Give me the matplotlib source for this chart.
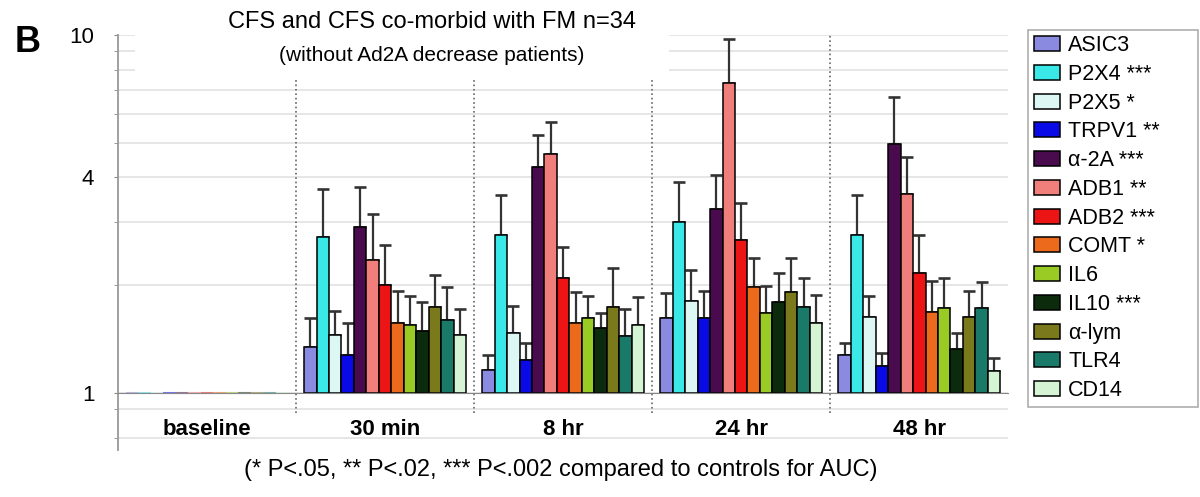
import numpy as np
import matplotlib
matplotlib.use('Agg')
import matplotlib.pyplot as plt
from matplotlib.patches import Rectangle
from matplotlib.ticker import FixedLocator, NullFormatter

plt.rcParams['font.family'] = ['Liberation Sans', 'DejaVu Sans']

groups = ['baseline', '30 min', '8 hr', '24 hr', '48 hr']
genes = ['ASIC3', 'P2X4 ***', 'P2X5 *', 'TRPV1 **', 'α-2A ***', 'ADB1 **', 'ADB2 ***',
         'COMT *', 'IL6', 'IL10 ***', 'α-lym', 'TLR4', 'CD14']
colors = ['#8a8ae0', '#3be8e8', '#dcf7f4', '#0a0ae6', '#4a0a4e', '#f07e7a', '#ec1414',
          '#ec6a1c', '#9acb24', '#0c2a0c', '#7a7a1c', '#1a7a6a', '#d4f4d4']

# mean fold change per gene (rows) for each time point (columns)
means = np.array([
    [1.0, 1.34, 1.16, 1.62, 1.28],
    [1.0, 2.72, 2.76, 3.01, 2.77],
    [1.0, 1.45, 1.47, 1.81, 1.63],
    [1.0, 1.28, 1.24, 1.62, 1.19],
    [1.0, 2.90, 4.29, 3.26, 4.96],
    [1.0, 2.35, 4.65, 7.33, 3.59],
    [1.0, 2.00, 2.10, 2.68, 2.17],
    [1.0, 1.57, 1.57, 1.98, 1.68],
    [1.0, 1.55, 1.62, 1.67, 1.73],
    [1.0, 1.49, 1.52, 1.79, 1.33],
    [1.0, 1.74, 1.74, 1.91, 1.63],
    [1.0, 1.60, 1.44, 1.74, 1.73],
    [1.0, 1.45, 1.55, 1.57, 1.15],
])
# top of the upper error bar
tops = np.array([
    [1.0, 1.62, 1.28, 1.90, 1.38],
    [1.0, 3.71, 3.57, 3.88, 3.57],
    [1.0, 1.69, 1.75, 2.21, 1.87],
    [1.0, 1.57, 1.38, 1.93, 1.29],
    [1.0, 3.75, 5.26, 4.06, 6.73],
    [1.0, 3.16, 5.72, 9.72, 4.55],
    [1.0, 2.59, 2.55, 3.40, 2.77],
    [1.0, 1.93, 1.91, 2.39, 2.06],
    [1.0, 1.87, 1.87, 1.99, 2.10],
    [1.0, 1.79, 1.67, 2.17, 1.47],
    [1.0, 2.13, 2.24, 2.39, 1.93],
    [1.0, 1.98, 1.72, 2.10, 2.04],
    [1.0, 1.72, 1.85, 1.88, 1.25],
])

fig = plt.figure(figsize=(12, 4.97), dpi=100)
ax = fig.add_axes([0.0983, 0.0946, 0.742, 0.835])

x = np.arange(len(groups))
w = 0.07
for j, g in enumerate(genes):
    pos = x + (j - 6) * w
    h = means[j] - 1
    ax.bar(pos[1:], h[1:], w, bottom=1, color=colors[j], edgecolor='black',
           linewidth=1.1, label=g, zorder=2)
    ax.bar(pos[:1], h[:1], w, bottom=1, color=colors[j], edgecolor=colors[j],
           linewidth=1.5, alpha=0.5, zorder=2)
    err = np.vstack([np.zeros(4), tops[j, 1:] - means[j, 1:]])
    ax.errorbar(pos[1:], means[j, 1:], yerr=err, fmt='none', ecolor='#333333',
                elinewidth=1.6, capsize=4.5, capthick=1.9, zorder=1.5)

ax.set_yscale('log')
ax.set_ylim(0.693, 10)
ax.set_xlim(-0.5, 4.5)
ax.spines['bottom'].set_position(('data', 1))

ax.yaxis.set_major_locator(FixedLocator([1, 4, 10]))
ax.set_yticklabels(['1', '4', '10'], fontsize=16)
ax.yaxis.set_minor_locator(FixedLocator([0.75, 0.9, 2, 3, 5, 6, 7, 8, 9]))
ax.yaxis.set_minor_formatter(NullFormatter())
ax.grid(True, which='both', axis='y', color='#e2e2e2', linewidth=1.2)
ax.set_axisbelow(True)
ax.tick_params(axis='y', which='both', length=3, color='#888888', pad=14)

ax.set_xticks(x)
ax.set_xticklabels(groups, fontsize=16, fontweight='bold')
ax.tick_params(axis='x', length=0, pad=19)
ax.spines['bottom'].set_color('#888888')
ax.spines['left'].set_color('#999999')
ax.spines['left'].set_linewidth(1.3)
ax.spines['top'].set_visible(False)
ax.spines['right'].set_visible(False)

for s in x[:-1] + 0.5:
    ax.axvline(s, ymin=0.09, color='#666666', linestyle=':', linewidth=1.2, zorder=0.8)

# white panel behind the title
ax.add_patch(Rectangle((0.019, 0.895), 0.6, 0.2, transform=ax.transAxes,
                       facecolor='white', edgecolor='none', zorder=1, clip_on=False))

fig.text(0.36, 0.955, 'CFS and CFS co-morbid with FM n=34', ha='center', va='center', fontsize=17)
fig.text(0.36, 0.888, '(without Ad2A decrease patients)', ha='center', va='center', fontsize=15)
fig.text(0.012, 0.915, 'B', fontsize=26, fontweight='bold', va='center')
fig.text(0.467, 0.054, '(* P<.05, ** P<.02, *** P<.002 compared to controls for AUC)',
         ha='center', va='center', fontsize=17)

leg = fig.legend(loc='upper left', bbox_to_anchor=(0.857, 0.175, 0.141, 0.765), mode='expand',
                 fontsize=15.5, frameon=True, fancybox=False, edgecolor='#999999',
                 handlelength=1.2, handleheight=0.7, labelspacing=0.36, borderpad=0.25,
                 handletextpad=0.4, borderaxespad=0)
leg.get_frame().set_linewidth(1.2)

plt.savefig('out.png', dpi=100)
